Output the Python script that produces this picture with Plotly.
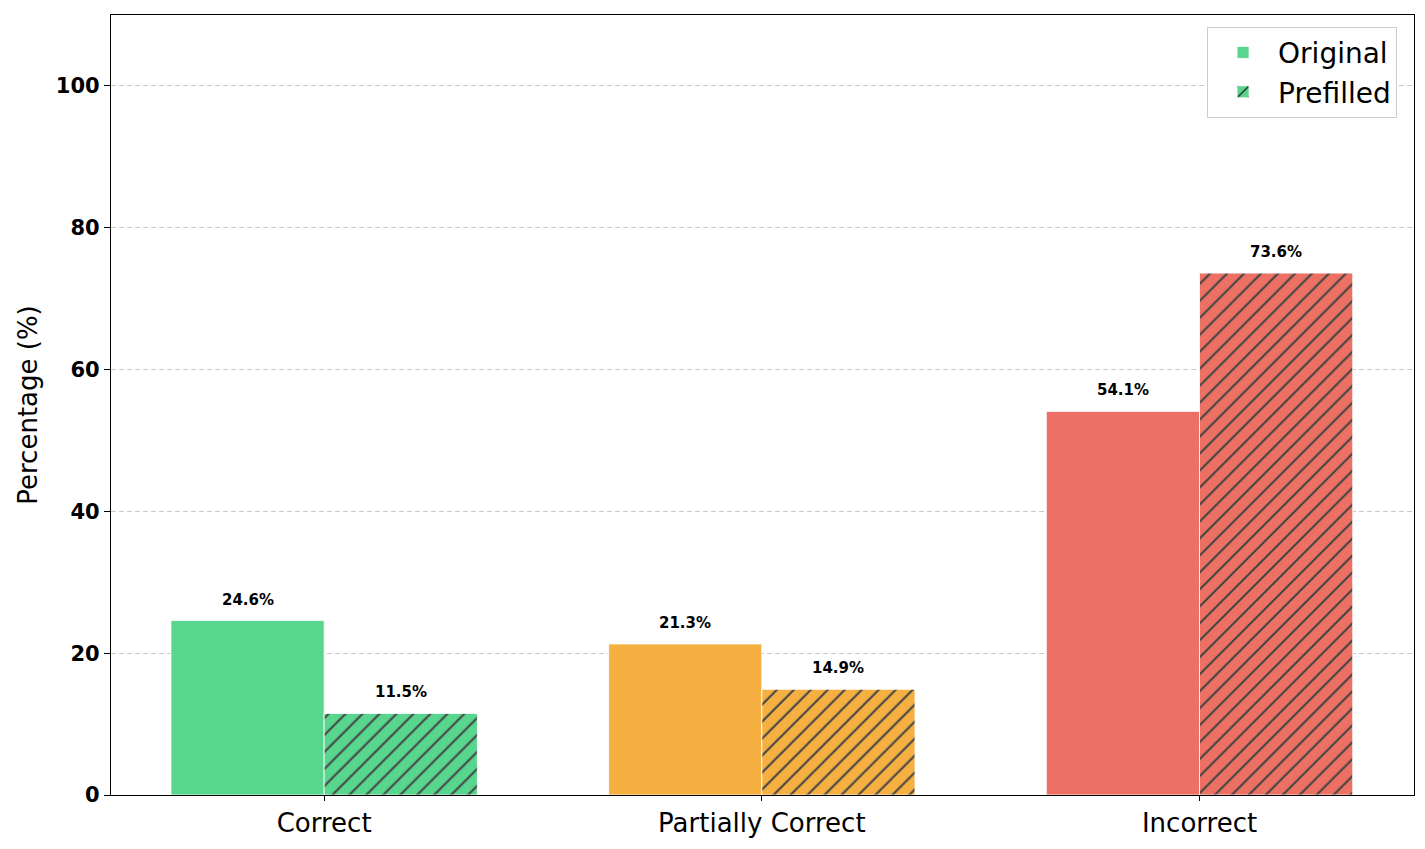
import plotly.graph_objects as go

categories = ["Correct", "Partially Correct", "Incorrect"]
original = [24.6, 21.3, 54.1]
prefilled = [11.5, 14.9, 73.6]
colors = ["#58D68D", "#F5B041", "#EC7063"]
series_names = ["Original", "Prefilled"]
y_ticks = [0, 20, 40, 60, 80, 100]

FONT = "DejaVu Sans"
BAR_W = 0.35
xpos = list(range(len(categories)))

fig = go.Figure()
fig.add_trace(go.Bar(
    x=[p - BAR_W / 2 for p in xpos], y=original, name=series_names[0], width=BAR_W,
    marker=dict(color=colors, line=dict(color="white", width=0.8)),
))
fig.add_trace(go.Bar(
    x=[p + BAR_W / 2 for p in xpos], y=prefilled, name=series_names[1], width=BAR_W,
    marker=dict(color=colors, line=dict(color="white", width=0.8),
                pattern=dict(shape="/", fgcolor="#262626", fgopacity=1, size=12,
                             solidity=0.17, fillmode="overlay")),
))

for i, p in enumerate(xpos):
    for xx, v in ((p - BAR_W / 2, original[i]), (p + BAR_W / 2, prefilled[i])):
        fig.add_annotation(x=xx, y=v, text=f"{v:.1f}%", showarrow=False,
                           yanchor="bottom", yshift=10,
                           font=dict(size=15, family=FONT, color="black", weight="bold"))

fig.update_layout(
    width=1410, height=834,
    margin=dict(l=103, r=4, t=7, b=47),
    plot_bgcolor="white", paper_bgcolor="white",
    barmode="overlay",
    font=dict(family=FONT, color="black"),
    showlegend=True,
    legend=dict(x=0.987, y=0.985, xanchor="right", yanchor="top",
                bgcolor="white", bordercolor="#cccccc", borderwidth=1,
                font=dict(size=28, family=FONT), itemwidth=60,
                tracegroupgap=4),
)
fig.update_xaxes(
    range=[-0.487, 2.49], tickvals=xpos, ticktext=categories,
    showline=True, linecolor="black", linewidth=1.2, mirror=True,
    ticks="outside", ticklen=5, tickcolor="black",
    tickfont=dict(size=26, family=FONT), showgrid=False, zeroline=False,
)
fig.update_yaxes(
    range=[0, 110], tickvals=y_ticks, showline=True, linecolor="black", linewidth=1.2, mirror=True,
    ticks="outside", ticklen=6, tickcolor="black",
    tickfont=dict(size=21, family=FONT, weight="bold"),
    showgrid=True, gridcolor="#c8c8c8", griddash="5px,3px", gridwidth=1,
    title=dict(text="Percentage (%)", font=dict(size=26, family=FONT), standoff=10),
    zeroline=False,
)

fig.write_html("out.html")
